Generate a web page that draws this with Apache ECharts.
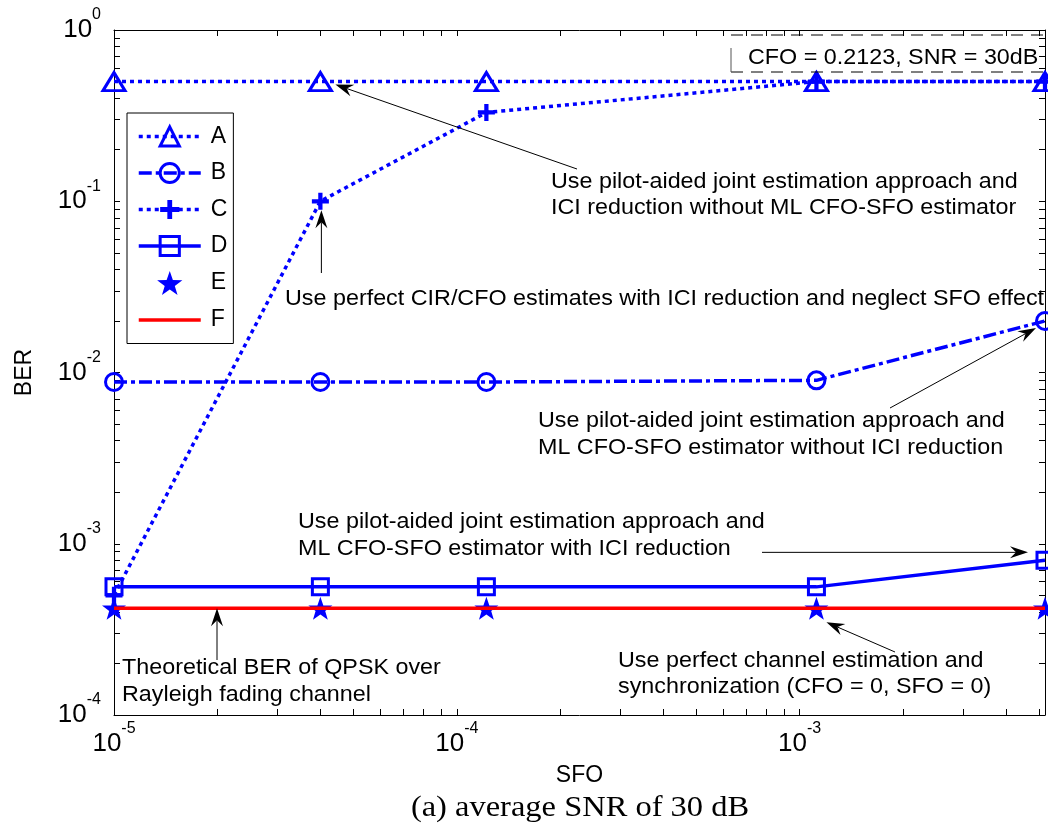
<!DOCTYPE html>
<html>
<head>
<meta charset="utf-8">
<script src="https://cdn.jsdelivr.net/npm/echarts@6/dist/echarts.min.js"></script>
<style>
  html, body { margin: 0; padding: 0; background: #fff; }
  #chart { width: 1048px; height: 829px; }
</style>
</head>
<body>
<div id="chart"></div>
<script>
// SFO values (x) and BER curves (y)
const sfo  = [1e-5, 4e-5, 1.22e-4, 1.12e-3, 5.2e-3];
const berA = [0.5, 0.5, 0.5, 0.5, 0.5];
const berB = [8.8e-3, 8.8e-3, 8.8e-3, 9.0e-3, 2.0e-2];
const berC = [5.0e-4, 0.1, 0.33, 0.5, 0.5];
const berD = [5.6e-4, 5.6e-4, 5.6e-4, 5.6e-4, 8.0e-4];
const berE = [4.2e-4, 4.2e-4, 4.2e-4, 4.2e-4, 4.2e-4];
const berF = [4.2e-4, 4.2e-4, 4.2e-4, 4.2e-4, 4.2e-4];
const seriesNames = ['A', 'B', 'C', 'D', 'E', 'F'];

// axis extents and labelled decades
const xMin = 1e-5, xMax = 5.2e-3;
const yMin = 1e-4, yMax = 1;
const xMajor = [1e-5, 1e-4, 1e-3];
const yMajor = [1e-4, 1e-3, 1e-2, 1e-1, 1];

// annotation texts
const noteTopRight = ['Use pilot-aided joint estimation approach and', 'ICI reduction without ML CFO-SFO estimator'];
const noteCIR = ['Use perfect CIR/CFO estimates with ICI reduction and neglect SFO effect'];
const noteMidRight = ['Use pilot-aided joint estimation approach and', 'ML CFO-SFO estimator without ICI reduction'];
const noteMid = ['Use pilot-aided joint estimation approach and', 'ML CFO-SFO estimator with ICI reduction'];
const noteTheory = ['Theoretical BER of QPSK over', 'Rayleigh fading channel'];
const notePerfect = ['Use perfect channel estimation and', 'synchronization (CFO = 0, SFO = 0)'];
const noteParams = 'CFO = 0.2123, SNR = 30dB';
const caption = '(a) average SNR of 30 dB';

const BLUE = '#0000ff', RED = '#ff0000';
const SANS = '"Liberation Sans", Arial, sans-serif';
const SERIF = '"Liberation Serif", "Times New Roman", serif';

// decade ticks with 2..9 sub-ticks, inside [lo, hi]
function logTicks(lo, hi) {
  const out = [];
  const e0 = Math.floor(Math.log10(lo) + 1e-9), e1 = Math.ceil(Math.log10(hi) - 1e-9);
  for (let e = e0; e <= e1; e++) {
    for (let m = 1; m <= 9; m++) {
      const v = m * Math.pow(10, e);
      if (v >= lo * 0.9999 && v <= hi * 1.0001) out.push(v);
    }
  }
  return out;
}
const xTicks = logTicks(xMin, xMax);
const yTicks = logTicks(yMin, yMax);

const pts = ys => sfo.map((x, i) => [x, ys[i]]);

const labelRich = {
  b: { fontSize: 26, fontFamily: SANS, color: '#000', padding: [10, 0, 10, 0] },
  s: { fontSize: 16, fontFamily: SANS, color: '#000', verticalAlign: 'top' }
};
const powLabel = v => '{b|10}{s|' + Math.round(Math.log10(v)) + '}';

const axisLineStyle = { show: true, onZero: false, lineStyle: { color: '#000', width: 1 } };

function xAxisDef(pos, withLabels) {
  return {
    type: 'log', logBase: 10, min: xMin, max: xMax, position: pos,
    axisLine: axisLineStyle,
    axisTick: { show: true, inside: true, length: 6, customValues: xTicks, lineStyle: { color: '#000', width: 1 } },
    axisLabel: withLabels
      ? { show: true, customValues: xMajor, formatter: powLabel, rich: labelRich, margin: 6 }
      : { show: false },
    splitLine: { show: false },
    minorTick: { show: false },
    name: withLabels ? 'SFO' : '',
    nameLocation: 'middle', nameGap: 49,
    nameTextStyle: { fontSize: 23, fontFamily: SANS, color: '#000' }
  };
}
function yAxisDef(pos, withLabels) {
  return {
    type: 'log', logBase: 10, min: yMin, max: yMax, position: pos,
    axisLine: axisLineStyle,
    axisTick: { show: true, inside: true, length: 6, customValues: yTicks, lineStyle: { color: '#000', width: 1 } },
    axisLabel: withLabels
      ? { show: true, customValues: yMajor, formatter: powLabel, rich: labelRich, margin: 13 }
      : { show: false },
    splitLine: { show: false },
    minorTick: { show: false },
    name: withLabels ? 'BER' : '',
    nameLocation: 'middle', nameGap: 78,
    nameTextStyle: { fontSize: 23, fontFamily: SANS, color: '#000' }
  };
}

const PLUS = 'path://M6,0H10V6H16V10H10V16H6V10H0V6H6Z';
const STAR = 'path://M10,0L12.35,6.76L19.51,6.91L13.8,11.24L15.88,18.09L10,14L4.12,18.09L6.2,11.24L0.49,6.91L7.65,6.76Z';
const hollow = { color: 'rgba(0,0,0,0)', borderColor: BLUE, borderWidth: 3 };

const option = {
  animation: false,
  backgroundColor: '#fff',
  grid: { left: 114, right: 3, top: 30, bottom: 114, containLabel: false },
  xAxis: [xAxisDef('bottom', true), xAxisDef('top', false)],
  yAxis: [yAxisDef('left', true), yAxisDef('right', false)],
  legend: {
    orient: 'vertical', left: 127, top: 113,
    padding: [12, 6, 12, 10], itemGap: 13.5, itemWidth: 62, itemHeight: 24,
    backgroundColor: '#fff', borderColor: '#000', borderWidth: 1, borderRadius: 0,
    textStyle: { fontSize: 23, fontFamily: SANS, color: '#000', padding: [0, 0, 0, 5] },
    lineStyle: { width: 3.5 },
    itemStyle: { borderWidth: 3 },
    selectedMode: false,
    data: seriesNames.map(n => n === 'F'
      ? { name: n, itemStyle: { color: 'rgba(0,0,0,0)', borderWidth: 0 } }
      : { name: n })
  },
  series: [
    { name: 'A', type: 'line', data: pts(berA), symbol: 'triangle', symbolSize: [22, 18],
      lineStyle: { color: BLUE, width: 3.5, type: [4, 4] }, itemStyle: hollow, emphasis: { disabled: true }, z: 3 },
    { name: 'B', type: 'line', data: pts(berB), symbol: 'circle', symbolSize: 17,
      lineStyle: { color: BLUE, width: 3.5, type: [13, 4, 4, 4] }, itemStyle: hollow, emphasis: { disabled: true }, z: 3 },
    { name: 'C', type: 'line', data: pts(berC), symbol: PLUS, symbolSize: 17,
      lineStyle: { color: BLUE, width: 3.5, type: [4, 4] }, itemStyle: { color: BLUE, borderWidth: 0 }, emphasis: { disabled: true }, z: 2 },
    { name: 'D', type: 'line', data: pts(berD), symbol: 'rect', symbolSize: 16,
      lineStyle: { color: BLUE, width: 3.5, type: 'solid' }, itemStyle: hollow, emphasis: { disabled: true }, z: 3 },
    { name: 'E', type: 'scatter', data: pts(berE), symbol: STAR, symbolSize: 24, symbolKeepAspect: true,
      itemStyle: { color: BLUE, opacity: 1 }, emphasis: { disabled: true }, z: 3 },
    { name: 'F', type: 'line', data: pts(berF), symbol: 'none', showSymbol: false,
      lineStyle: { color: RED, width: 3.5, type: 'solid' }, itemStyle: { color: 'rgba(0,0,0,0)' }, emphasis: { disabled: true }, z: 4 }
  ]
};

const chart = echarts.init(document.getElementById('chart'), null, { renderer: 'canvas' });
chart.setOption(option);

// ---- annotations ----
const px = (x, y) => chart.convertToPixel({ xAxisIndex: 0, yAxisIndex: 0 }, [x, y]);
const gfx = [];
const FS = 22;

function textLines(lines, x, baseline0, lead) {
  lines.forEach((t, i) => {
    gfx.push({
      type: 'text', x: x, y: baseline0 + i * lead - 0.31 * FS, scaleX: 1.06,
      style: { text: t, fontSize: FS, fontFamily: SANS, fill: '#000', align: 'left', verticalAlign: 'middle' },
      z: 50
    });
  });
}
function arrow(tail, tip) {
  const dx = tip[0] - tail[0], dy = tip[1] - tail[1];
  const len = Math.hypot(dx, dy), ux = dx / len, uy = dy / len;
  const nx = -uy, ny = ux;
  const L = 18, W = 6, N = 6;
  const back = [tip[0] - ux * L, tip[1] - uy * L];
  const notch = [tip[0] - ux * (L - N), tip[1] - uy * (L - N)];
  gfx.push({ type: 'line', shape: { x1: tail[0], y1: tail[1], x2: notch[0], y2: notch[1] },
    style: { stroke: '#000', lineWidth: 1 }, z: 50 });
  gfx.push({ type: 'polygon', shape: { points: [tip, [back[0] + nx * W, back[1] + ny * W], notch, [back[0] - nx * W, back[1] - ny * W]] },
    style: { fill: '#000' }, z: 50 });
}

// arrows aimed at data points
const pA = px(sfo[1], berA[1]);
arrow([577, 169], [pA[0] + 15, pA[1] + 3]);
const pC = px(sfo[1], berC[1]);
arrow([pC[0] + 1, 273], [pC[0] + 1, pC[1] + 9]);
const pB = px(sfo[4], berB[4]);
arrow([890, 408], [pB[0] - 9, pB[1] + 7]);
const pD = px(sfo[4], berD[4]);
arrow([762, pD[1] - 8], [pD[0] - 17, pD[1] - 8]);
const pE = px(sfo[3], berE[3]);
arrow([895, 652], [pE[0] + 10, pE[1] + 14]);
const pF = px(3e-5, berF[0]);
arrow([217, 660], [217, pF[1]]);

textLines(noteTopRight, 551, 189, 26);
textLines(noteCIR, 285, 306, 26);
textLines(noteMidRight, 538, 428, 27);
textLines(noteMid, 298, 529, 27);
textLines(noteTheory, 122, 675, 27);
textLines(notePerfect, 618, 668, 26);

// parameter box in the top-right corner
gfx.push({ type: 'line', shape: { x1: 731, y1: 35, x2: 1044, y2: 35 }, style: { stroke: '#000', lineWidth: 1, lineDash: [12, 8] }, z: 40 });
gfx.push({ type: 'line', shape: { x1: 731, y1: 72, x2: 1044, y2: 72 }, style: { stroke: '#000', lineWidth: 1, lineDash: [12, 8] }, z: 40 });
gfx.push({ type: 'line', shape: { x1: 731, y1: 48, x2: 731, y2: 72 }, style: { stroke: '#555', lineWidth: 1 }, z: 40 });
textLines([noteParams], 748, 65, 26);

// caption under the axis
gfx.push({
  type: 'text', x: 580, y: 808, scaleX: 1.12,
  style: { text: caption, fontSize: 29, fontFamily: SERIF, fill: '#000', align: 'center', verticalAlign: 'middle' },
  z: 50
});

chart.setOption({ graphic: gfx });
</script>
</body>
</html>
